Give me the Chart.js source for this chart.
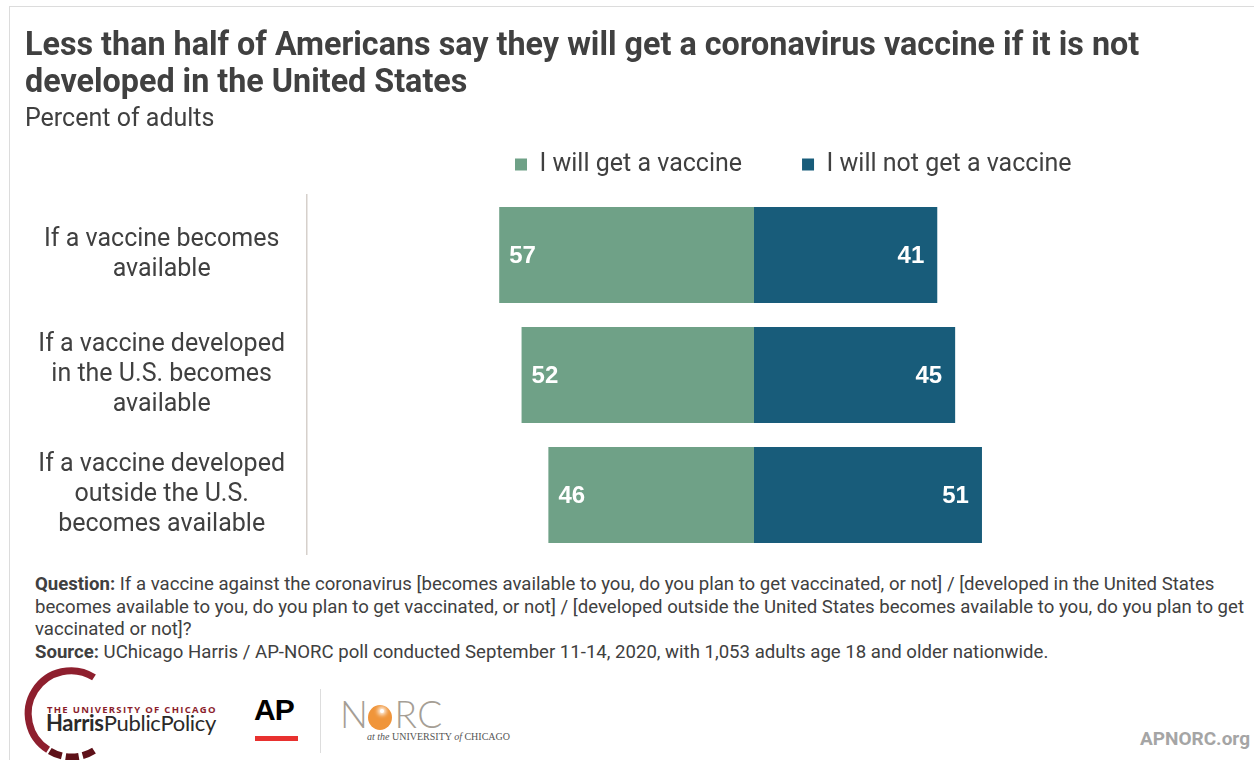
<!DOCTYPE html>
<html>
<head>
<meta charset="utf-8">
<script src="https://cdn.jsdelivr.net/npm/chart.js@4/dist/chart.umd.min.js"></script>
<style>
  body { margin: 0; width: 1254px; height: 760px; background: #fff; overflow: hidden; position: relative; font-family: Roboto, "Noto Sans", sans-serif; color: #404040; }
  .frame { position: absolute; left: 9px; top: 6px; right: 0; bottom: 0; border-top: 1px solid #dcdcdc; border-left: 1px solid #dcdcdc; }
  .title { position: absolute; left: 25px; top: 26px; font-size: 32.3px; line-height: 37px; font-weight: bold; white-space: nowrap; z-index: 2; }
  .subtitle { position: absolute; left: 25px; top: 104px; font-size: 25px; line-height: 28px; white-space: nowrap; z-index: 2; }
  #chartBox { position: absolute; left: 0; top: 92px; }
  .notes { position: absolute; left: 35px; top: 573px; font-size: 18.6px; line-height: 22.5px; white-space: nowrap; z-index: 2; }
  .notes b { font-weight: bold; }
  .harris-top { position: absolute; left: 47px; top: 703px; font: bold 9.5px "Open Sans", sans-serif; letter-spacing: 1.3px; color: #8b1d2c; white-space: nowrap; }
  .harris-name { position: absolute; left: 46px; top: 709px; font: 22px Lato, sans-serif; letter-spacing: -0.3px; color: #2a2a2a; white-space: nowrap; }
  .ap { position: absolute; left: 254px; top: 693px; font: bold 30px "Liberation Sans", Arial, sans-serif; letter-spacing: -1px; color: #000; }
  .ap-bar { position: absolute; left: 255px; top: 736px; width: 43px; height: 5px; background: #e8312f; }
  .divider { position: absolute; left: 320px; top: 689px; width: 1px; height: 64px; background: #dddddd; }
  .norc { position: absolute; left: 340px; top: 691px; font: 300 37px Lato, sans-serif; color: #a59e95; letter-spacing: 0.5px; white-space: nowrap; }
  .norc-o { display: inline-block; position: relative; width: 24px; height: 25px; border-radius: 50%; background: #f0953a; vertical-align: -2px; margin: 0 2px 0 0; }
  .norc-o:after { content: ""; position: absolute; left: 12px; top: 4px; width: 4px; height: 4px; background: #fff; border-radius: 50%; box-shadow: 0 0 4px 2px #fff; }
  .norc-sub { position: absolute; left: 367px; top: 731px; font: 10px "Liberation Serif", "DejaVu Serif", serif; color: #555; white-space: nowrap; }
  .site { position: absolute; left: 1140px; top: 727px; font: bold 19px Roboto, sans-serif; color: #a5a5a5; }
</style>
</head>
<body>
<div class="frame"></div>
<div class="title">Less than half of Americans say they will get a coronavirus vaccine if it is not<br>developed in the United States</div>
<div class="subtitle">Percent of adults</div>

<div id="chartBox"><canvas id="chart" width="1201" height="463"></canvas></div>

<div class="notes"><b>Question:</b> If a vaccine against the coronavirus [becomes available to you, do you plan to get vaccinated, or not] / [developed in the United States<br>becomes available to you, do you plan to get vaccinated, or not] / [developed outside the United States becomes available to you, do you plan to get<br>vaccinated or not]?<br><b>Source:</b> UChicago Harris / AP-NORC poll conducted September 11-14, 2020, with 1,053 adults age 18 and older nationwide.</div>

<svg style="position:absolute;left:0;top:660px" width="240" height="100">
  <path d="M94 17.4 A42 42 0 0 0 48.1 89.8" fill="none" stroke="#8e1f2e" stroke-width="7"/>
  <path d="M49.8 90.9 A42 42 0 0 0 94 90.6" fill="none" stroke="#5e1119" stroke-width="7" stroke-dasharray="13 4"/>
</svg>
<div class="harris-top">THE UNIVERSITY OF CHICAGO</div>
<div class="harris-name"><b>Harris</b>PublicPolicy</div>
<div class="ap">AP</div>
<div class="ap-bar"></div>
<div class="divider"></div>
<div class="norc">N<span class="norc-o"></span>RC</div>
<div class="norc-sub"><i>at the</i> UNIVERSITY <i>of</i> CHICAGO</div>
<div class="site">APNORC.org</div>

<script>
const categories = [
    ['If a vaccine becomes', 'available'],
    ['If a vaccine developed', 'in the U.S. becomes', 'available'],
    ['If a vaccine developed', 'outside the U.S.', 'becomes available']
];
const willGet = [57, 52, 46];
const willNotGet = [41, 45, 51];
const seriesNames = ['I will get a vaccine', 'I will not get a vaccine'];
const seriesColors = ['#6fa187', '#185c7a'];

const legendStartX = 515;

// move the legend over the bars, the way the original sits
const shiftLegend = {
    id: 'shiftLegend',
    beforeDraw(chart) {
        const lg = chart.legend;
        const w = lg.right - lg.left;
        lg.left = legendStartX - lg.options.labels.padding;
        lg.right = lg.left + w;
    }
};

// white numbers inside the bars
const valueLabels = {
    id: 'valueLabels',
    afterDatasetsDraw(chart) {
        const ctx = chart.ctx;
        ctx.save();
        ctx.font = 'bold 24px "Liberation Sans", Arial, sans-serif';
        ctx.fillStyle = '#ffffff';
        ctx.textBaseline = 'middle';
        chart.data.datasets.forEach((ds, i) => {
            chart.getDatasetMeta(i).data.forEach((bar, j) => {
                const v = Math.abs(ds.data[j]);
                if (i === 0) {
                    ctx.textAlign = 'left';
                    ctx.fillText(v, Math.min(bar.x, bar.base) + 10, bar.y + 1);
                } else {
                    ctx.textAlign = 'right';
                    ctx.fillText(v, Math.max(bar.x, bar.base) - 13, bar.y + 1);
                }
            });
        });
        ctx.restore();
    }
};

new Chart(document.getElementById('chart').getContext('2d'), {
    type: 'bar',
    data: {
        labels: categories,
        datasets: [
            {
                label: seriesNames[0],
                data: willGet.map(v => -v),
                backgroundColor: seriesColors[0],
                borderWidth: 0
            },
            {
                label: seriesNames[1],
                data: willNotGet,
                backgroundColor: seriesColors[1],
                borderWidth: 0
            }
        ]
    },
    options: {
        indexAxis: 'y',
        responsive: false,
        animation: false,
        barPercentage: 1,
        categoryPercentage: 0.8,
        layout: { padding: 0 },
        scales: {
            x: {
                position: 'top',
                stacked: true,
                min: -100,
                max: 100,
                ticks: { display: false },
                grid: { display: false },
                border: { display: false },
                afterFit: s => { s.height = 8; }
            },
            y: {
                stacked: true,
                grid: { display: false, drawTicks: false },
                border: { display: true, color: '#d6d0cb', width: 1.5 },
                ticks: {
                    crossAlign: 'center',
                    padding: 22,
                    color: '#404040',
                    font: { family: 'Roboto', size: 25, lineHeight: 1.2 }
                },
                afterFit: s => {
                    s.width = 307;
                    s.paddingTop = 0;
                    s.paddingBottom = 0;
                }
            }
        },
        plugins: {
            legend: {
                position: 'top',
                align: 'start',
                labels: {
                    boxWidth: 12,
                    boxHeight: 12,
                    padding: 60,
                    color: '#404040',
                    font: { family: 'Roboto', size: 25 }
                }
            },
            tooltip: { enabled: false }
        }
    },
    plugins: [shiftLegend, valueLabels]
});
</script>
</body>
</html>
